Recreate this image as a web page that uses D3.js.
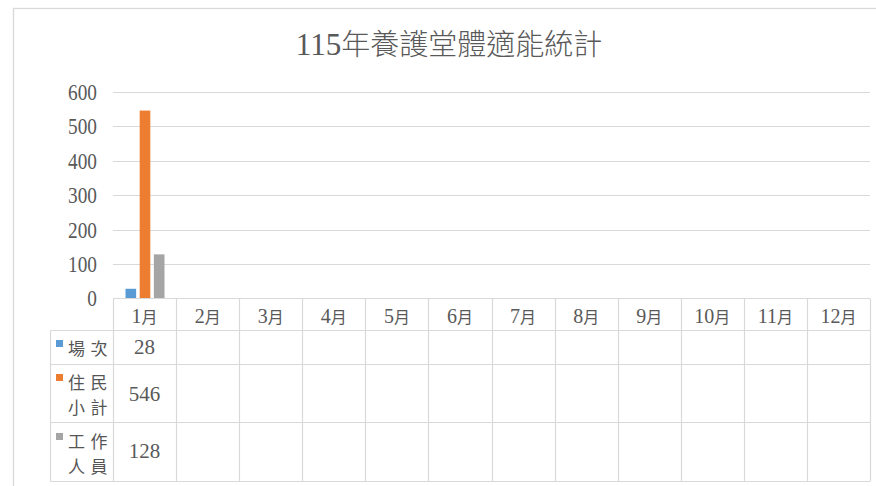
<!DOCTYPE html>
<html><head><meta charset="utf-8">
<script src="https://cdn.jsdelivr.net/npm/d3@7"></script>
<style>body{margin:0;background:#fff}svg{display:block}</style>
</head><body>
<svg id="c" width="876" height="486"></svg>
<script>
// ---- data ----
const title = "115年養護堂體適能統計";
const months = ["1月","2月","3月","4月","5月","6月","7月","8月","9月","10月","11月","12月"];
const seriesNames = ["場次","住民小計","工作人員"];
const seriesLabelLines = [["場次"],["住民","小計"],["工作","人員"]];
const visits    = [28, null, null, null, null, null, null, null, null, null, null, null];
const residents = [546, null, null, null, null, null, null, null, null, null, null, null];
const staff     = [128, null, null, null, null, null, null, null, null, null, null, null];
const yTicks = [0, 100, 200, 300, 400, 500, 600];

// ---- drawing ----
(function () {
const series = [visits, residents, staff];
const colors = ["#5B9BD5", "#ED7D31", "#A5A5A5"];
const textColor = "#595959";
const lineColor = "#D9D9D9";
const SERIF = "'Liberation Serif', serif";
const CJK = "'Noto Sans CJK TC', 'Noto Sans CJK SC', sans-serif";

const svg = d3.select("#c");

// outer frame (extends beyond viewport on right/bottom)
svg.append("rect").attr("x", 13.5).attr("y", 8.5).attr("width", 900).attr("height", 500)
  .attr("fill", "#fff").attr("stroke", lineColor).attr("stroke-width", 1.3);

function addRuns(textSel, s, digitSize, cjkSize) {
  const parts = s.split(/(\d+)/).filter(p => p.length);
  parts.forEach(p => {
    const isNum = /^\d+$/.test(p);
    textSel.append("tspan").text(p)
      .attr("font-family", isNum ? SERIF : CJK)
      .attr("font-size", isNum ? digitSize : cjkSize);
  });
}

// title
const t = svg.append("text").attr("x", 449).attr("y", 55).attr("text-anchor", "middle")
  .attr("fill", textColor).attr("font-weight", 300);
addRuns(t, title, 31, 29);

const pLeft = 113, pRight = 870, pTop = 92, pBottom = 298.4;
const x = d3.scaleBand().domain(months).range([pLeft, pRight]).paddingInner(0).paddingOuter(0);
const y = d3.scaleLinear().domain([0, 600]).range([pBottom, pTop]);
const xs = d3.scaleBand().domain(d3.range(series.length)).range([12.5, 51.5]).paddingInner(0.25).paddingOuter(0);

// gridlines
svg.append("g").selectAll("line").data(yTicks.filter(v => v > 0)).join("line")
  .attr("x1", pLeft).attr("x2", pRight)
  .attr("y1", d => Math.round(y(d)) + 0.5).attr("y2", d => Math.round(y(d)) + 0.5)
  .attr("stroke", lineColor).attr("stroke-width", 1);

// y axis
const yAxis = svg.append("g").attr("transform", `translate(${pLeft},0)`)
  .call(d3.axisLeft(y).tickValues(yTicks).tickSize(0).tickPadding(0));
yAxis.select(".domain").remove();
const sx = 0.84;
yAxis.selectAll("text")
  .attr("font-family", SERIF).attr("font-size", 23).attr("fill", textColor)
  .attr("dy", null).attr("y", 7.5).attr("x", -16 / sx)
  .attr("transform", `scale(${sx},1)`);

// bars
series.forEach((vals, si) => {
  svg.append("g").selectAll("rect").data(months.map((m, i) => ({ m, v: vals[i] })).filter(d => d.v != null))
    .join("rect")
    .attr("x", d => x(d.m) + xs(si))
    .attr("width", xs.bandwidth())
    .attr("y", d => y(d.v))
    .attr("height", d => y(0) - y(d.v))
    .attr("fill", colors[si]);
});

// data table
const rowY = [298.5, 330.5, 364.5, 422.5, 481.5];
const tableLeft = 50.5;
const tg = svg.append("g").attr("stroke", lineColor).attr("stroke-width", 1.2).attr("fill", "none");
tg.append("line").attr("x1", pLeft).attr("x2", pRight).attr("y1", rowY[0]).attr("y2", rowY[0]);
rowY.slice(1).forEach(yy => tg.append("line").attr("x1", tableLeft).attr("x2", pRight).attr("y1", yy).attr("y2", yy));
tg.append("line").attr("x1", tableLeft).attr("x2", tableLeft).attr("y1", rowY[1]).attr("y2", rowY[4]);
const vx = months.map(m => x(m)).concat([pRight]);
vx.forEach(xx => tg.append("line").attr("x1", Math.round(xx) + 0.5).attr("x2", Math.round(xx) + 0.5)
  .attr("y1", rowY[0]).attr("y2", rowY[4]));

// month header (x axis)
const xAxis = svg.append("g").attr("transform", `translate(0,${rowY[0]})`)
  .call(d3.axisBottom(x).tickSize(0).tickPadding(0));
xAxis.select(".domain").remove();
xAxis.selectAll("text").each(function (d) {
  const sel = d3.select(this);
  sel.text(null).attr("dy", null).attr("y", 24.5).attr("fill", textColor);
  addRuns(sel, d, 20, 16);
});

// row labels with legend keys
const labelBase = [[354], [388, 413], [447, 472]];
seriesLabelLines.forEach((lines, si) => {
  svg.append("rect").attr("x", 56).attr("y", labelBase[si][0] - 14).attr("width", 7).attr("height", 7)
    .attr("fill", colors[si]);
  lines.forEach((ln, li) => {
    svg.append("text").attr("x", 68).attr("y", labelBase[si][li] + 0.5)
      .attr("font-family", CJK).attr("font-size", 17).attr("letter-spacing", 5.5)
      .attr("fill", "#555").text(ln);
  });
});

// values in table
const valueBase = [354, 401, 458];
series.forEach((vals, si) => {
  svg.append("g").selectAll("text").data(months.map((m, i) => ({ m, v: vals[i] })).filter(d => d.v != null))
    .join("text")
    .attr("x", d => x(d.m) + x.bandwidth() / 2)
    .attr("y", valueBase[si])
    .attr("text-anchor", "middle")
    .attr("font-family", SERIF).attr("font-size", 21).attr("fill", textColor)
    .text(d => d.v);
});
})();
</script>
</body></html>
